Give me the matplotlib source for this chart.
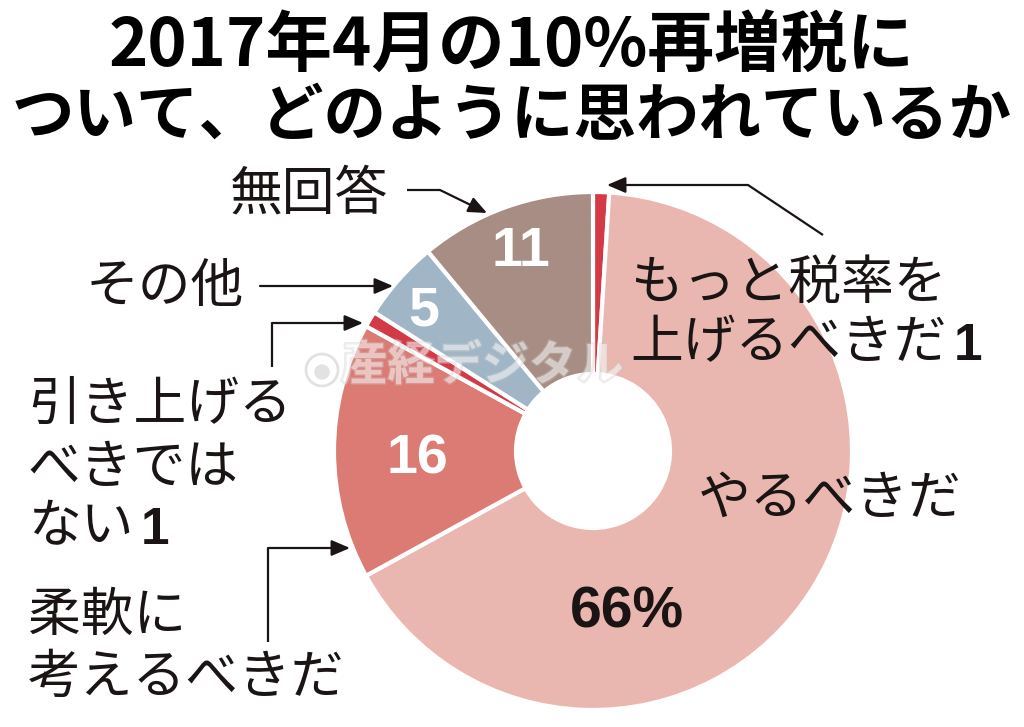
import matplotlib
matplotlib.use("Agg")
import matplotlib.pyplot as plt
import matplotlib.patheffects as pe

# survey answers, clockwise from 12 o'clock
answers = ["もっと税率を上げるべきだ", "やるべきだ", "柔軟に考えるべきだ",
           "引き上げるべきではない", "その他", "無回答"]
shares = [1, 66, 16, 1, 5, 11]
colors = ["#d43a46", "#e9b7af", "#dc7b74", "#d43a46", "#a0b6c7", "#a78d83"]

title_lines = ["2017年4月の10%再増税に", "ついて、どのように思われているか"]

W, H = 1024, 727
JP = ["Noto Sans CJK JP", "DejaVu Sans"]
NUM = ["Liberation Sans", "DejaVu Sans"]


def Y(y):
    # image rows -> axes y
    return H - y


def main() -> None:
    fig = plt.figure(figsize=(W / 100, H / 100), dpi=100)
    ax = fig.add_axes([0, 0, 1, 1])

    ax.pie(shares, colors=colors, startangle=90, counterclock=False,
           radius=259, center=(593, Y(451)),
           wedgeprops=dict(width=182, edgecolor="white", linewidth=3))
    ax.set_xlim(0, W)
    ax.set_ylim(0, H)
    ax.set_aspect("equal")
    ax.axis("off")

    # title
    ax.text(512, Y(47), title_lines[0], family=JP, weight="bold", fontsize=48,
            ha="center", va="center")
    ax.text(512, Y(117), title_lines[1], family=JP, weight="bold", fontsize=45,
            ha="center", va="center")

    # faint watermark
    ax.text(482, Y(366), "産経デジタル", family=JP, weight="bold", fontsize=34,
            ha="center", va="center", color="white", alpha=0.3, style="italic",
            path_effects=[pe.withStroke(linewidth=2, foreground="#c8c8c8", alpha=0.35)])
    ax.add_patch(plt.Circle((322, Y(370)), 16, facecolor="none",
                            edgecolor="#e2e2e2", linewidth=2))
    ax.add_patch(plt.Circle((322, Y(372)), 7, color="#e2e2e2"))

    # numbers inside the ring
    ax.text(521, Y(252), str(shares[5]), family=NUM, weight="bold", fontsize=40,
            color="white", ha="center", va="center")
    ax.text(424, Y(311), str(shares[4]), family=NUM, weight="bold", fontsize=40,
            color="white", ha="center", va="center")
    ax.text(417, Y(460), str(shares[2]), family=NUM, weight="bold", fontsize=40,
            color="white", ha="center", va="center")
    ax.text(627, Y(613), f"{shares[1]}%", family=NUM, weight="bold", fontsize=41,
            color="#1a1414", ha="center", va="center")
    ax.text(830, Y(498), answers[1], family=JP, fontsize=38,
            color="#1a1414", ha="center", va="center")

    lab = dict(family=JP, fontsize=38, color="#1a1414", va="center")

    # もっと税率を上げるべきだ 1
    ax.text(630, Y(283), "もっと税率を", ha="left", **lab)
    t = ax.text(630, Y(343), "上げるべきだ", ha="left", **lab)
    ax.annotate(str(shares[0]), xy=(1, 0), xycoords=t, xytext=(5, 0),
                textcoords="offset points", family=NUM,
                weight="bold", fontsize=37, color="#1a1414", va="bottom")

    ax.text(309, Y(194), "無回答", ha="center", **lab)
    ax.text(165, Y(286), "その他", ha="center", **lab)

    ax.text(28, Y(404), "引き上げる", ha="left", **lab)
    ax.text(28, Y(467), "べきでは", ha="left", **lab)
    t = ax.text(28, Y(527), "ない", ha="left", **lab)
    ax.annotate(str(shares[3]), xy=(1, 0), xycoords=t, xytext=(5, 0),
                textcoords="offset points", family=NUM,
                weight="bold", fontsize=37, color="#1a1414", va="bottom")

    ax.text(28, Y(615), "柔軟に", ha="left", **lab)
    ax.text(28, Y(677), "考えるべきだ", ha="left", **lab)

    # leader lines: polyline points, last segment ends in an arrow head
    leaders = [
        [(823, 235), (748, 185), (607, 185)],
        [(407, 190), (440, 190), (487, 213)],
        [(260, 286), (393, 286)],
        [(272, 367), (272, 323), (363, 323)],
        [(268, 642), (268, 548), (350, 548)],
    ]
    for pts in leaders:
        xs = [p[0] for p in pts[:-1]]
        ys = [Y(p[1]) for p in pts[:-1]]
        if len(xs) > 1:
            ax.plot(xs, ys, color="#1a1414", lw=1.6, solid_capstyle="butt")
        ax.annotate("", xy=(pts[-1][0], Y(pts[-1][1])),
                    xytext=(pts[-2][0], Y(pts[-2][1])),
                    arrowprops=dict(arrowstyle="-|>,head_length=0.7,head_width=0.3",
                                    color="#1a1414", lw=1.6, mutation_scale=16,
                                    shrinkA=0, shrinkB=0))

    fig.savefig("out.png", dpi=100, facecolor="white")


if __name__ == "__main__":
    main()
